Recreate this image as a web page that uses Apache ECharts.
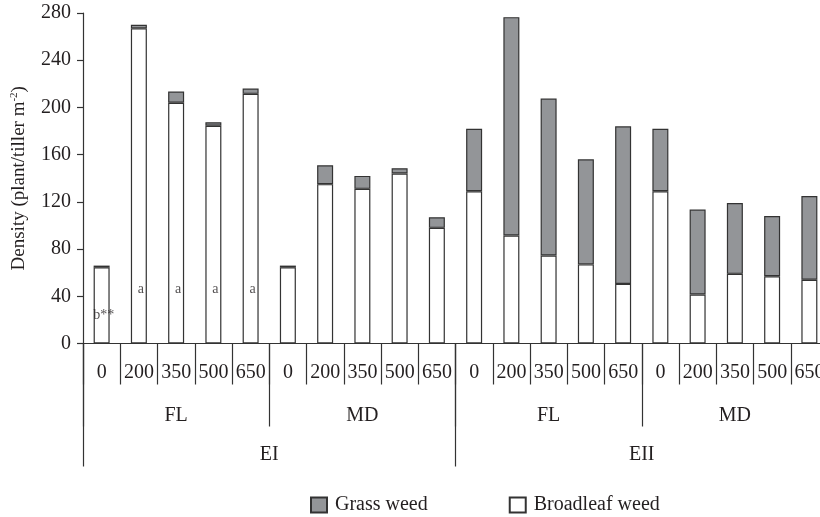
<!DOCTYPE html>
<html lang="en">
<head>
    <meta charset="UTF-8">
    <title>Weed density</title>
    <script src="https://cdn.jsdelivr.net/npm/echarts@6/dist/echarts.min.js"></script>
    <style>
        html, body { margin: 0; padding: 0; background: #fff; overflow: hidden; }
        /* plot runs a little past the right edge of the window, as in the original */
        #chart { width: 828px; height: 517px; }
    </style>
</head>
<body>
<div id="chart"></div>

<script type="text/javascript">
    // seeding rates, tillage groups, experiments
    var rates = ['0', '200', '350', '500', '650', '0', '200', '350', '500', '650',
                 '0', '200', '350', '500', '650', '0', '200', '350', '500', '650'];
    var tillage = ['FL', 'MD', 'FL', 'MD'];
    var experiments = ['EI', 'EII'];

    var broadleaf = [64.5, 267, 204, 184.5, 211.5, 64.5, 135, 131, 144, 98,
                     129, 91.5, 74.5, 67, 50.5, 129, 41.5, 59, 57, 54];
    var grass = [1.5, 3, 9.5, 3, 4.5, 1.5, 16, 11, 4.5, 9,
                 53, 185, 133, 89, 133.5, 53, 72, 60, 51, 71];

    // significance letters drawn inside the first bars
    var noteCats = [0, 1, 2, 3, 4];
    var noteVals = [23.5, 45.5, 45.5, 45.5, 45.5];
    var noteText = ['b**', 'a', 'a', 'a', 'a'];

    var ink = '#231f20';
    var font = 'Liberation Serif';

    var chart = echarts.init(document.getElementById('chart'));

    var notes = [];
    for (var i = 0; i < noteCats.length; i++) {
        notes.push({ value: [noteCats[i], noteVals[i]], name: noteText[i] });
    }

    function groupAxis(data, tickLen, labelMargin, showLine) {
        return {
            type: 'category',
            data: data,
            position: 'bottom',
            boundaryGap: true,
            axisLine: { show: showLine, lineStyle: { color: '#333', width: 1.2 } },
            axisTick: { show: true, alignWithLabel: false, length: tickLen, interval: 0,
                        lineStyle: { color: '#333', width: 1.2 } },
            axisLabel: { interval: 0, margin: labelMargin, fontFamily: font, fontSize: 20, color: ink },
            splitLine: { show: false }
        };
    }

    chart.setOption({
        animation: false,
        textStyle: { fontFamily: font, color: ink },
        grid: { left: 83, top: 13, right: 0, bottom: 173.5 },
        legend: {
            left: 310,
            top: 495,
            padding: 0,
            icon: 'rect',
            itemWidth: 16,
            itemHeight: 15,
            itemGap: 81,
            data: ['Grass weed', 'Broadleaf weed'],
            textStyle: { fontFamily: font, fontSize: 20, color: ink, padding: [0, 0, 0, 3] }
        },
        xAxis: [
            groupAxis(rates, 41, 19, true),
            groupAxis(tillage, 83, 62, false),
            groupAxis(experiments, 123, 101, false)
        ],
        yAxis: {
            type: 'value',
            min: 0,
            max: 280,
            interval: 40,
            name: 'Density (plant/tiller m{sup|-2})',
            nameLocation: 'middle',
            nameGap: 54,
            nameTextStyle: {
                fontFamily: font,
                fontSize: 19,
                color: ink,
                rich: { sup: { fontFamily: font, fontSize: 11, color: ink, verticalAlign: 'top', padding: [0, 0, 9, 0] } }
            },
            splitLine: { show: false },
            axisLine: { show: true, lineStyle: { color: '#333', width: 1.2 } },
            axisTick: { show: true, length: 6, lineStyle: { color: '#333', width: 1.2 } },
            axisLabel: { margin: 12, fontFamily: font, fontSize: 20, color: ink }
        },
        series: [
            {
                name: 'Broadleaf weed',
                type: 'bar',
                stack: 'w',
                barWidth: 16,
                data: broadleaf,
                itemStyle: { color: '#ffffff', borderColor: '#333', borderWidth: 1.2 }
            },
            {
                name: 'Grass weed',
                type: 'bar',
                stack: 'w',
                barWidth: 16,
                data: grass,
                itemStyle: { color: '#939598', borderColor: '#333', borderWidth: 1.2 }
            },
            {
                type: 'scatter',
                data: notes,
                symbolSize: 0,
                silent: true,
                label: {
                    show: true,
                    position: 'inside',
                    offset: [2, 0],
                    formatter: '{b}',
                    fontFamily: font,
                    fontSize: 14,
                    color: ink
                }
            }
        ]
    });
</script>
</body>
</html>
